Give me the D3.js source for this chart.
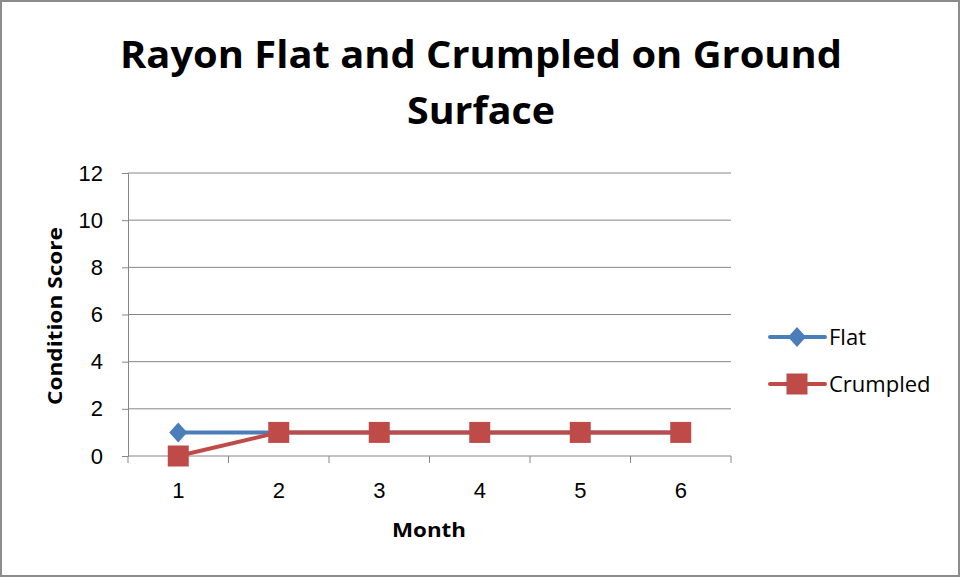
<!DOCTYPE html>
<html>
<head>
<meta charset="utf-8">
<script src="https://cdn.jsdelivr.net/npm/d3@7"></script>
<style>
  body { margin: 0; background: #fff; }
  svg { font-family: "Open Sans", "Noto Sans", sans-serif; }
</style>
</head>
<body>
<svg class="chart"></svg>
<script>
const months = ["1", "2", "3", "4", "5", "6"];
const flatScores = [1, 1, 1, 1, 1, 1];
const crumpledScores = [0, 1, 1, 1, 1, 1];
const yTicks = [0, 2, 4, 6, 8, 10, 12];
const seriesNames = ["Flat", "Crumpled"];

const W = 961, H = 577;
const plot = { left: 128, right: 731, top: 173, bottom: 456 };

const svg = d3.select(".chart").attr("width", W).attr("height", H);

// outer frame
svg.append("rect")
    .attr("x", 1).attr("y", 1)
    .attr("width", W - 3).attr("height", H - 2)
    .attr("fill", "#fff").attr("stroke", "#8c8c8c").attr("stroke-width", 2);

const x = d3.scaleBand().domain(months).range([plot.left, plot.right]);
const y = d3.scaleLinear().domain([0, 12]).range([plot.bottom, plot.top]);

// gridlines
svg.append("g")
    .selectAll("line")
    .data(yTicks.filter(d => d > 0))
    .enter().append("line")
    .attr("x1", plot.left).attr("x2", plot.right)
    .attr("y1", d => y(d)).attr("y2", d => y(d))
    .attr("stroke", "#868686").attr("stroke-width", 1);

// y axis
const yAxis = svg.append("g")
    .attr("transform", `translate(${plot.left},0)`)
    .call(d3.axisLeft(y).tickValues(yTicks).tickSize(6).tickPadding(19));
yAxis.selectAll("text").attr("font-size", 22).attr("fill", "#000");

// x axis
const xAxis = svg.append("g")
    .attr("transform", `translate(0,${plot.bottom})`)
    .call(d3.axisBottom(x).tickSize(0).tickPadding(26));
xAxis.select(".domain").remove();
xAxis.selectAll("text").attr("font-size", 22).attr("fill", "#000");
svg.append("line")
    .attr("x1", plot.left).attr("x2", plot.right)
    .attr("y1", plot.bottom).attr("y2", plot.bottom)
    .attr("stroke", "#868686");
svg.append("g")
    .selectAll("line")
    .data(months.map(m => x(m)).concat([plot.right]))
    .enter().append("line")
    .attr("x1", d => d).attr("x2", d => d)
    .attr("y1", plot.bottom).attr("y2", plot.bottom + 7)
    .attr("stroke", "#868686");
svg.selectAll(".domain, .tick line").attr("stroke", "#868686");

const cx = m => x(m) + x.bandwidth() / 2;
const line = d3.line().x(d => cx(d.m)).y(d => y(d.v));

const flat = months.map((m, i) => ({ m, v: flatScores[i] }));
const crumpled = months.map((m, i) => ({ m, v: crumpledScores[i] }));

const blue = "#4a7ebb", red = "#be4b48";
const diamond = "M0,-10L9,0L0,10L-9,0Z";

svg.append("path").datum(flat).attr("d", line)
    .attr("fill", "none").attr("stroke", blue).attr("stroke-width", 4).attr("stroke-linejoin", "round");
svg.selectAll(".flat").data(flat).enter().append("path")
    .attr("transform", d => `translate(${cx(d.m)},${y(d.v)})`)
    .attr("d", diamond).attr("fill", blue);

svg.append("path").datum(crumpled).attr("d", line)
    .attr("fill", "none").attr("stroke", red).attr("stroke-width", 4).attr("stroke-linejoin", "round");
svg.selectAll(".crum").data(crumpled).enter().append("rect")
    .attr("x", d => cx(d.m) - 10.5).attr("y", d => y(d.v) - 10.5)
    .attr("width", 21).attr("height", 21).attr("fill", red);

// title
const title = svg.append("text")
    .attr("text-anchor", "middle").attr("font-weight", "bold")
    .attr("font-size", 38).attr("fill", "#000");
title.append("tspan").attr("x", 481).attr("y", 68).text("Rayon Flat and Crumpled on Ground")
    .attr("textLength", 722).attr("lengthAdjust", "spacingAndGlyphs");
title.append("tspan").attr("x", 481).attr("y", 124).text("Surface")
    .attr("textLength", 148).attr("lengthAdjust", "spacingAndGlyphs");

// axis titles
svg.append("text")
    .attr("transform", "translate(62,316) rotate(-90)")
    .attr("text-anchor", "middle").attr("font-weight", "bold").attr("font-size", 20)
    .attr("textLength", 178).attr("lengthAdjust", "spacingAndGlyphs")
    .text("Condition Score");
svg.append("text")
    .attr("x", 429).attr("y", 537)
    .attr("text-anchor", "middle").attr("font-weight", "bold").attr("font-size", 20)
    .attr("textLength", 74).attr("lengthAdjust", "spacingAndGlyphs")
    .text("Month");

// legend
const legend = svg.append("g");
[[blue, 337], [red, 384]].forEach(([c, ly], i) => {
    legend.append("line").attr("x1", 770).attr("x2", 825).attr("y1", ly).attr("y2", ly)
        .attr("stroke", c).attr("stroke-width", 4).attr("stroke-linecap", "round");
    if (i === 0) {
        legend.append("path").attr("transform", `translate(797,${ly})`).attr("d", diamond).attr("fill", c);
    } else {
        legend.append("rect").attr("x", 786.5).attr("y", ly - 10.5).attr("width", 21).attr("height", 21).attr("fill", c);
    }
    legend.append("text").attr("x", 829).attr("y", ly + 8).attr("font-size", 22).attr("fill", "#000")
        .text(seriesNames[i]);
});
</script>
</body>
</html>
